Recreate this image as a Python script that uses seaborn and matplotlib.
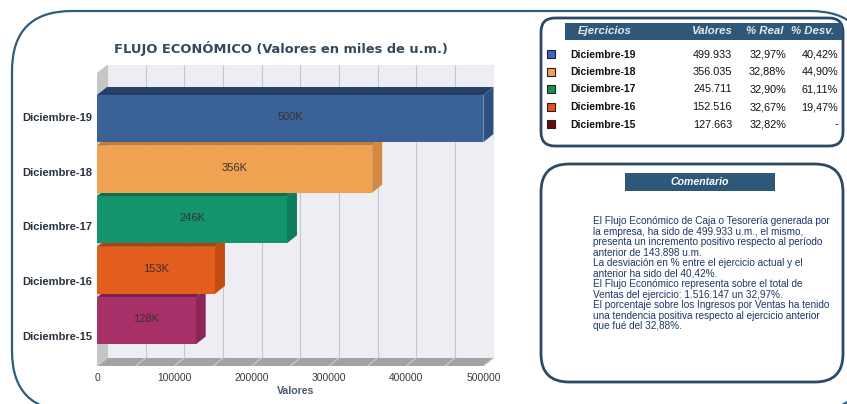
import numpy as np
import pandas as pd
import matplotlib.pyplot as plt
import seaborn as sns
from matplotlib.patches import Polygon, Rectangle, FancyBboxPatch
from matplotlib.transforms import ScaledTranslation

# --- data ---
ejercicios = ['Diciembre-19', 'Diciembre-18', 'Diciembre-17', 'Diciembre-16', 'Diciembre-15']
valores = [499933, 356035, 245711, 152516, 127663]
pct_real = ['32,97%', '32,88%', '32,90%', '32,67%', '32,82%']
pct_desv = ['40,42%', '44,90%', '61,11%', '19,47%', '-']
x_ticks = [0, 100000, 200000, 300000, 400000, 500000]

comentario = [
    'El Flujo Económico de Caja o Tesorería generada por',
    'la empresa, ha sido de 499.933 u.m., el mismo,',
    'presenta un incremento positivo respecto al período',
    'anterior de 143.898 u.m.',
    'La desviación en % entre el ejercicio actual y el',
    'anterior ha sido del 40,42%.',
    'El Flujo Económico representa sobre el total de',
    'Ventas del ejercicio: 1.516.147 un 32,97%.',
    'El porcentaje sobre los Ingresos por Ventas ha tenido',
    'una tendencia positiva respecto al ejercicio anterior',
    'que fué del 32,88%.',
]

# bar colours: front, top, side
col_front = ['#3b6297', '#efa352', '#14946c', '#e35e1c', '#a83068']
col_top = ['#24406a', '#c77b32', '#0e6f50', '#ad420f', '#78204c']
col_side = ['#2c5080', '#d38a40', '#117c5c', '#c24c14', '#8b2758']
col_legend = ['#3f62c8', '#f0a050', '#179050', '#e8501e', '#6a0a0a']

frame_col = '#2f5c7a'
box_col = '#2c4a66'
head_col = '#2f5878'

sns.set_theme(style='white')
plt.rcParams['font.family'] = ['Liberation Sans', 'DejaVu Sans']

fig = plt.figure(figsize=(8.47, 4.04), dpi=100)
fig.patch.set_facecolor('white')

# background layer in pixel coordinates (frames, table, comment)
bg = fig.add_axes([0, 0, 1, 1])
bg.set_xlim(0, 847)
bg.set_ylim(404, 0)
bg.axis('off')

# filled so the renderer does not clip (and bend) the off-canvas curves
bg.add_patch(FancyBboxPatch((12, 11), 858, 400, boxstyle='round,pad=0,rounding_size=60',
                            fc='white', ec=frame_col, lw=1.6))
bg.add_patch(FancyBboxPatch((541, 18), 302, 128, boxstyle='round,pad=0,rounding_size=14',
                            fc='white', ec=box_col, lw=2))
bg.add_patch(FancyBboxPatch((541, 164), 302, 218, boxstyle='round,pad=0,rounding_size=28',
                            fc='white', ec=box_col, lw=2))

bg.text(281, 48, 'FLUJO ECONÓMICO (Valores en miles de u.m.)', family='DejaVu Sans',
        fontsize=9.4, fontweight='bold', color='#34495e', ha='center', va='center')

# table
bg.add_patch(Rectangle((565, 23), 277, 17, fc=head_col, ec='none'))
hdr = dict(fontsize=8.2, fontweight='bold', style='italic', color='#e2e9f0', va='center')
bg.text(578, 31.5, 'Ejercicios', ha='left', **hdr)
bg.text(732, 31.5, 'Valores', ha='right', **hdr)
bg.text(783, 31.5, '% Real', ha='right', **hdr)
bg.text(834, 31.5, '% Desv.', ha='right', **hdr)
for i, name in enumerate(ejercicios):
    y = 54.5 + 17.5 * i
    bg.add_patch(Rectangle((547, y - 4.5), 8, 8, fc=col_legend[i], ec='#222222', lw=0.8))
    bg.text(570, y, name, fontsize=7.5, fontweight='bold', color='#111111', ha='left', va='center')
    bg.text(732, y, f'{valores[i]:,}'.replace(',', '.'), fontsize=7.8, color='#111111',
            ha='right', va='center')
    bg.text(786, y, pct_real[i], fontsize=7.8, color='#111111', ha='right', va='center')
    bg.text(838, y, pct_desv[i], fontsize=7.8, color='#111111', ha='right', va='center')

# comment
bg.add_patch(Rectangle((625, 173), 150, 18, fc=head_col, ec='none'))
bg.text(700, 182, 'Comentario', fontsize=7.6, fontweight='bold', style='italic',
        color='white', ha='center', va='center')
for i, line in enumerate(comentario):
    bg.text(593, 221.5 + 10.45 * i, line, fontsize=7.2, color='#1d3768', ha='left', va='center')

# --- 3D-looking bar chart ---
dx, dy = 13000, 0.158
front_top, front_bot = -0.90, 4.89
back_top, back_bot = front_top - dy, front_bot - dy

ax = fig.add_axes([97 / 847, 38 / 404, 396.5 / 847, 301 / 404])
ax.set_zorder(2)
ax.set_facecolor('none')

df = pd.DataFrame({'Ejercicio': ejercicios, 'Valores': valores})
sns.barplot(data=df, x='Valores', y='Ejercicio', hue='Ejercicio', palette=col_front,
            orient='h', width=0.93, saturation=1, legend=False, ax=ax)
bars = list(ax.patches)

ax.set_xlim(0, 500000 + dx)
ax.set_ylim(front_bot, back_top)

# back wall with grid, left wall and floor
ax.add_patch(Rectangle((dx, back_top), 500000, back_bot - back_top, fc='#ededf3', ec='none', zorder=0))
grid_x = np.arange(0, 500001, 50000)
ax.vlines(grid_x + dx, back_top, back_bot, color='#c6c6d0', lw=0.8, zorder=0.5)
ax.add_patch(Polygon([(0, front_top), (dx, back_top), (dx, back_bot), (0, front_bot)],
                     fc='#c6c6c6', ec='none', zorder=0.6))
ax.add_patch(Polygon([(0, front_bot), (dx, back_bot), (500000 + dx, back_bot), (500000, front_bot)],
                     fc='#a3a3a3', ec='none', zorder=0.6))
for gx in grid_x:
    ax.plot([gx, gx + dx], [front_bot, back_bot], color='#cdcdcd', lw=0.8, zorder=0.7)

n = len(bars)
for i, bar in enumerate(bars):
    x0, y0 = bar.get_x(), bar.get_y()
    w, h = bar.get_width(), bar.get_height()
    z = 10 + (n - i) * 3
    bar.set_zorder(z)
    bar.set_edgecolor('none')
    ax.add_patch(Polygon([(x0, y0), (x0 + dx, y0 - dy), (x0 + w + dx, y0 - dy), (x0 + w, y0)],
                         fc=col_top[i], ec='none', zorder=z - 1))
    ax.add_patch(Polygon([(x0 + w, y0), (x0 + w + dx, y0 - dy), (x0 + w + dx, y0 + h - dy),
                          (x0 + w, y0 + h)], fc=col_side[i], ec='none', zorder=z - 1))
    ax.text(x0 + w / 2, y0 + h / 2 - 0.03, f'{valores[i] / 1000:.0f}K', fontsize=8,
            color='#3b2f2f', ha='center', va='center', zorder=z + 1)

# category labels (slightly drifting down like the original perspective)
for i, name in enumerate(ejercicios):
    off = ScaledTranslation(-5 / 100, -(4.1 * i - 0.5) / 100, fig.dpi_scale_trans)
    ax.text(0, i, name, transform=ax.get_yaxis_transform() + off, fontsize=8,
            fontweight='bold', color='#26323f', ha='right', va='center')

ax.set_yticks([])
ax.set_ylabel('')
ax.set_xticks(x_ticks)
ax.set_xticklabels([str(t) for t in x_ticks])
ax.tick_params(axis='x', length=0, pad=5, labelsize=7.4, labelcolor='#3a3a3a')
ax.set_xlabel('Valores', fontsize=7.6, fontweight='bold', color='#46586a', labelpad=2.5)
sns.despine(ax=ax, left=True, bottom=True)

fig.savefig('out.png', dpi=100)
